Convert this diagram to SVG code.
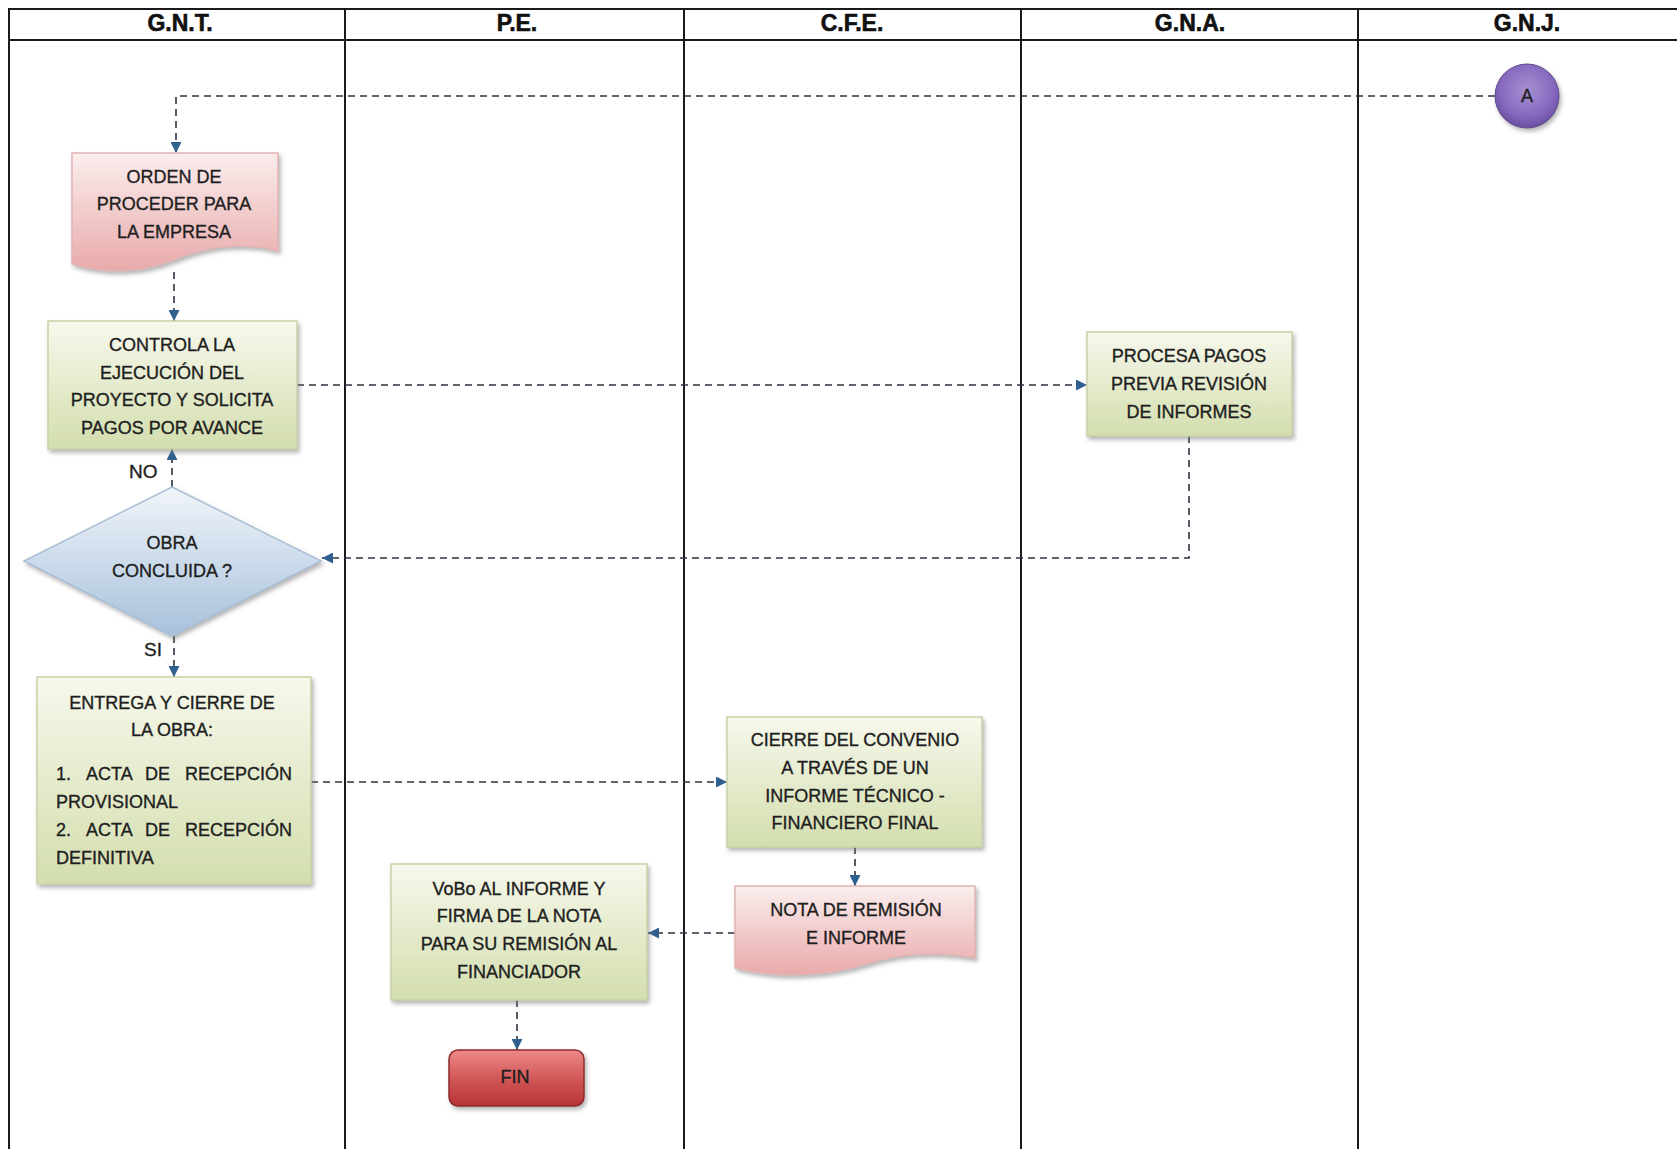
<svg xmlns="http://www.w3.org/2000/svg" width="1677" height="1149" viewBox="0 0 1677 1149">
  <defs>
    <linearGradient id="gGreen" x1="0" y1="0" x2="0" y2="1">
      <stop offset="0" stop-color="#f7f8ec"/>
      <stop offset="1" stop-color="#d3deae"/>
    </linearGradient>
    <linearGradient id="gPink" x1="0" y1="0" x2="0" y2="1">
      <stop offset="0" stop-color="#fbeeee"/>
      <stop offset="1" stop-color="#e9aaaa"/>
    </linearGradient>
    <linearGradient id="gBlue" x1="0" y1="0" x2="0" y2="1">
      <stop offset="0" stop-color="#f1f5fa"/>
      <stop offset="1" stop-color="#a7c1db"/>
    </linearGradient>
    <linearGradient id="gRed" x1="0" y1="0" x2="0" y2="1">
      <stop offset="0" stop-color="#ee8a8a"/>
      <stop offset="0.5" stop-color="#d25858"/>
      <stop offset="1" stop-color="#b83436"/>
    </linearGradient>
    <radialGradient id="gPurple" cx="0.5" cy="0.4" r="0.65">
      <stop offset="0" stop-color="#a690d2"/>
      <stop offset="0.65" stop-color="#8668bf"/>
      <stop offset="1" stop-color="#5f4896"/>
    </radialGradient>
    <filter id="shadow" x="-10%" y="-10%" width="125%" height="130%">
      <feDropShadow dx="2" dy="3" stdDeviation="2" flood-color="#7a7a7a" flood-opacity="0.55"/>
    </filter>
    <marker id="arrow" viewBox="0 0 10 10" refX="10" refY="5" markerWidth="11" markerHeight="11" markerUnits="userSpaceOnUse" orient="auto">
      <path d="M0,0 L10,5 L0,10 Z" fill="#2e5f8f"/>
    </marker>
    <style>
      .lane { stroke: #1a1a1a; stroke-width: 2; fill: none; }
      .hdr { font-family: "Liberation Sans", Arial, sans-serif; font-weight: bold; font-size: 23px; fill: #111; stroke: #111; stroke-width: 0.6; text-anchor: middle; }
      .txt { font-family: "Liberation Sans", Arial, sans-serif; font-size: 18px; fill: #1e1e1e; stroke: #1e1e1e; stroke-width: 0.35; text-anchor: middle; }
      .txtl { font-family: "Liberation Sans", Arial, sans-serif; font-size: 18px; fill: #1e1e1e; stroke: #1e1e1e; stroke-width: 0.35; text-anchor: start; }
      .lbl { font-family: "Liberation Sans", Arial, sans-serif; font-size: 19px; fill: #1e1e1e; stroke: #1e1e1e; stroke-width: 0.35; }
      .proc { fill: url(#gGreen); stroke: #c8d2a6; stroke-width: 1.5; filter: url(#shadow); }
      .doc { fill: url(#gPink); stroke: #e2b4b4; stroke-width: 1.5; filter: url(#shadow); }
      .dec { fill: url(#gBlue); stroke: #a9bfd6; stroke-width: 1.5; filter: url(#shadow); }
      .term { fill: url(#gRed); stroke: #8e2a2c; stroke-width: 1.5; filter: url(#shadow); }
      .conn { fill: url(#gPurple); stroke: #5e4a8e; stroke-width: 1; filter: url(#shadow); }
      .flow { fill: none; stroke: #2b3440; stroke-width: 1.6; stroke-dasharray: 7 5; marker-end: url(#arrow); }
    </style>
  </defs>

  <rect x="0" y="0" width="1677" height="1149" fill="#ffffff"/>

  <!-- Swimlane frame -->
  <g id="lanes">
    <line class="lane" x1="8" y1="9" x2="1677" y2="9"/>
    <line class="lane" x1="8" y1="40" x2="1677" y2="40"/>
    <line class="lane" x1="9" y1="9" x2="9" y2="1149"/>
    <line class="lane" x1="345" y1="9" x2="345" y2="1149"/>
    <line class="lane" x1="684" y1="9" x2="684" y2="1149"/>
    <line class="lane" x1="1021" y1="9" x2="1021" y2="1149"/>
    <line class="lane" x1="1358" y1="9" x2="1358" y2="1149"/>
    <text class="hdr" x="180" y="31">G.N.T.</text>
    <text class="hdr" x="517" y="31">P.E.</text>
    <text class="hdr" x="852" y="31">C.F.E.</text>
    <text class="hdr" x="1190" y="31">G.N.A.</text>
    <text class="hdr" x="1527" y="31">G.N.J.</text>
  </g>

  <!-- Connectors -->
  <g id="connectors">
    <path class="flow" d="M1495,96 H176 V153"/>
    <path class="flow" d="M174,272 V321"/>
    <path class="flow" d="M297,385 H1087"/>
    <path class="flow" d="M1189,436 V558 H322"/>
    <path class="flow" d="M172,487 V449"/>
    <path class="flow" d="M174,636 V677"/>
    <path class="flow" d="M311,782 H727"/>
    <path class="flow" d="M855,847 V886"/>
    <path class="flow" d="M735,933 H648"/>
    <path class="flow" d="M517,1000 V1050"/>
    <text class="lbl" x="129" y="478">NO</text>
    <text class="lbl" x="144" y="656">SI</text>
  </g>

  <!-- Start connector A -->
  <g id="node-a">
    <circle class="conn" cx="1527" cy="96" r="32"/>
    <text class="txt" x="1527" y="102" fill="#1c1c3a" stroke="#1c1c3a">A</text>
  </g>

  <g id="node-orden">
    <path class="doc" d="M72,153 H278 V251 C240,241 206,247 176,259 C142,273 106,274 72,264 Z"/>
    <text class="txt" x="174" y="183">ORDEN DE</text>
    <text class="txt" x="174" y="210">PROCEDER PARA</text>
    <text class="txt" x="174" y="238">LA EMPRESA</text>
  </g>

  <g id="node-controla">
    <rect class="proc" x="48" y="321" width="249" height="128"/>
    <text class="txt" x="172" y="351">CONTROLA LA</text>
    <text class="txt" x="172" y="379">EJECUCIÓN DEL</text>
    <text class="txt" x="172" y="406">PROYECTO Y SOLICITA</text>
    <text class="txt" x="172" y="434">PAGOS POR AVANCE</text>
  </g>

  <g id="node-procesa">
    <rect class="proc" x="1087" y="332" width="205" height="104"/>
    <text class="txt" x="1189" y="362">PROCESA PAGOS</text>
    <text class="txt" x="1189" y="390">PREVIA REVISIÓN</text>
    <text class="txt" x="1189" y="418">DE INFORMES</text>
  </g>

  <g id="node-obra">
    <path class="dec" d="M172,487 L321,561 L172,636 L24,561 Z"/>
    <text class="txt" x="172" y="549">OBRA</text>
    <text class="txt" x="172" y="577">CONCLUIDA ?</text>
  </g>

  <g id="node-entrega">
    <rect class="proc" x="37" y="677" width="274" height="207"/>
    <text class="txt" x="172" y="709">ENTREGA Y CIERRE DE</text>
    <text class="txt" x="172" y="736">LA OBRA:</text>
    <!-- justified list lines: words placed individually -->
    <text class="txtl" y="780"><tspan x="56">1.</tspan> <tspan x="86">ACTA</tspan> <tspan x="145">DE</tspan> <tspan x="185">RECEPCIÓN</tspan></text>
    <text class="txtl" x="56" y="808">PROVISIONAL</text>
    <text class="txtl" y="836"><tspan x="56">2.</tspan> <tspan x="86">ACTA</tspan> <tspan x="145">DE</tspan> <tspan x="185">RECEPCIÓN</tspan></text>
    <text class="txtl" x="56" y="864">DEFINITIVA</text>
  </g>

  <g id="node-cierre">
    <rect class="proc" x="727" y="717" width="255" height="130"/>
    <text class="txt" x="855" y="746">CIERRE DEL CONVENIO</text>
    <text class="txt" x="855" y="774">A TRAVÉS DE UN</text>
    <text class="txt" x="855" y="802">INFORME TÉCNICO -</text>
    <text class="txt" x="855" y="829">FINANCIERO FINAL</text>
  </g>

  <g id="node-nota">
    <path class="doc" d="M735,886 H975 V958 C930,950 896,955 866,964 C826,977 776,978 735,968 Z"/>
    <text class="txt" x="856" y="916">NOTA DE REMISIÓN</text>
    <text class="txt" x="856" y="944">E INFORME</text>
  </g>

  <g id="node-vobo">
    <rect class="proc" x="391" y="864" width="256" height="136"/>
    <text class="txt" x="519" y="895">VoBo AL INFORME Y</text>
    <text class="txt" x="519" y="922">FIRMA DE LA NOTA</text>
    <text class="txt" x="519" y="950">PARA SU REMISIÓN AL</text>
    <text class="txt" x="519" y="978">FINANCIADOR</text>
  </g>

  <g id="node-fin">
    <rect class="term" x="449" y="1050" width="135" height="56" rx="9" ry="9"/>
    <text class="txt" x="515" y="1083" fill="#5a1010" stroke="#5a1010">FIN</text>
  </g>
</svg>
